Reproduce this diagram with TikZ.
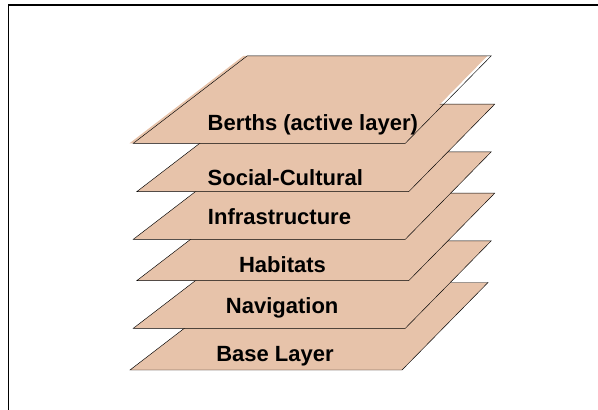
\documentclass[tikz,border=0pt]{standalone}
\usepackage{fontspec}
\setmainfont{Liberation Sans}
\definecolor{layertan}{RGB}{231,195,170}
\begin{document}
\begin{tikzpicture}[x=1pt,y=-1pt,
    layer/.style={fill=layertan, draw=black, line width=0.45pt},
    lbl/.style={anchor=base, inner sep=0pt, font=\fontsize{22}{26}\selectfont\bfseries}]
\useasboundingbox (0,0) rectangle (598,410);
\draw[line width=1.3pt] (598,5) -- (8.6,5) -- (8.6,410);

% layers, the lowest first
\foreach \bx/\by in {130/370, 133.3/328.3, 136.7/280.7, 133.3/239.3, 136.7/191.7}
  \draw[layer] (\bx,\by) -- ++(272,0) -- ++(86,-87.5) -- ++(-244,0) -- cycle;

% top layer, fill a bit off its outline
\fill[layertan] (129.5,143.3) -- ++(272,0) -- ++(86,-87.5) -- ++(-244,0) -- cycle;
\draw[line width=0.45pt] (133.3,143.3) -- ++(272,0) -- ++(86,-87.5) -- ++(-244,0) -- cycle;

\node[lbl] (berths) at (312.8,130.7) {Berths (active layer)};
\node[lbl] (social) at (285.3,185.7) {Social-Cultural};
\node[lbl] (infra) at (279.5,224) {Infrastructure};
\node[lbl] (habitats) at (282.5,272.7) {Habitats};
\node[lbl] (navigation) at (282.2,313.3) {Navigation};
\node[lbl] (base) at (275,361.7) {Base Layer};
\end{tikzpicture}
\end{document}
